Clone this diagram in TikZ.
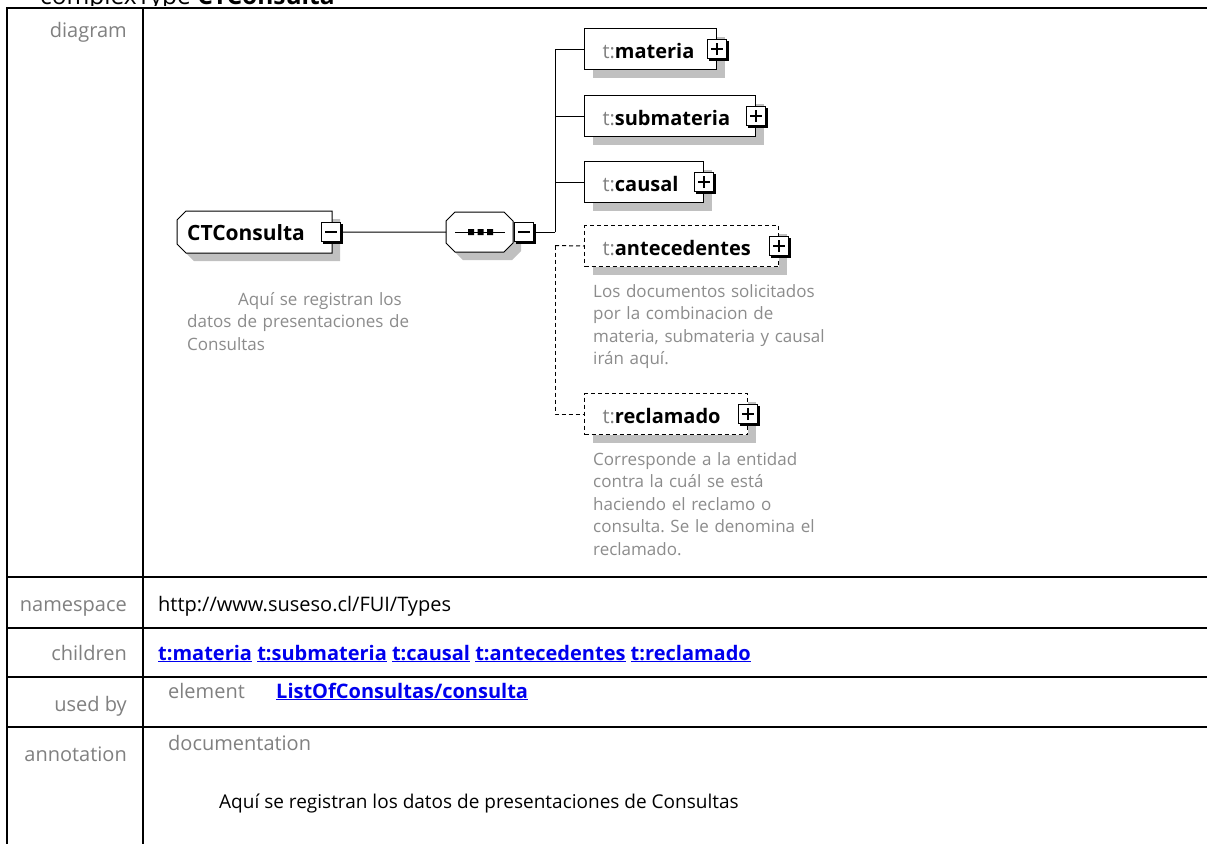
\documentclass[tikz,border=0pt]{standalone}
\usepackage{fontspec}
\setmainfont{Open Sans}
\usetikzlibrary{shadows}
\definecolor{lblgray}{RGB}{128,128,128}
\definecolor{desgray}{RGB}{140,140,140}
\definecolor{shgray}{RGB}{192,192,192}
\definecolor{linkblue}{RGB}{0,0,238}
\frenchspacing
\begin{document}
\begin{tikzpicture}[x=1pt,y=-1pt,
  tline/.style={line width=2pt, black},
  lbl/.style={anchor=base east, inner sep=0pt, text=lblgray, font=\fontsize{20}{24}\selectfont},
  val/.style={anchor=base west, inner sep=0pt, font=\fontsize{20}{24}\selectfont},
  lnk/.style={anchor=base west, inner sep=0pt, text=linkblue, font=\fontsize{20}{24}\selectfont\bfseries},
  shad/.style={drop shadow={shadow xshift=8pt, shadow yshift=-8pt, fill=shgray, opacity=1}},
  elbox/.style={shad, draw=black, line width=1pt, fill=white, inner sep=0pt, anchor=north west,
    minimum height=41pt, text height=19pt, text depth=0pt, align=left, font=\fontsize{20}{24}\selectfont},
  optbox/.style={elbox, dash pattern=on 4pt off 3pt},
  expbox/.style={draw=black, line width=1.3pt, fill=white, minimum size=19.5pt, inner sep=0pt,
    drop shadow={shadow xshift=2pt, shadow yshift=-2pt, fill=black, opacity=1}},
  minusbox/.style={expbox, path picture={\draw[line width=1.2pt] ([xshift=-6pt]path picture bounding box.center) -- ([xshift=6pt]path picture bounding box.center);}},
  plusbox/.style={expbox, path picture={\draw[line width=1.2pt] ([xshift=-6pt]path picture bounding box.center) -- ([xshift=6pt]path picture bounding box.center) ([yshift=-6pt]path picture bounding box.center) -- ([yshift=6pt]path picture bounding box.center);}},
  conn/.style={line width=1pt, black},
  optconn/.style={conn, dash pattern=on 4pt off 3pt},
  desc/.style={anchor=base west, inner sep=0pt, align=left, text width=260pt, text=desgray, font=\fontsize{17}{22.5}\selectfont},
]
\useasboundingbox (0,0) rectangle (1207,844);
\fill[white] (0,0) rectangle (1207,844);

% heading (cut off at the top)
\begin{scope}
\clip (0,0) rectangle (1207,5.5);
\node[anchor=base west, inner sep=0pt, font=\fontsize{24.5}{28}\selectfont] (title) at (40,4.5) {complexType \textbf{CTConsulta}};
\end{scope}

% table rules
\draw[tline] (7,8) -- (1207,8);
\draw[tline] (7,577) -- (1207,577);
\draw[tline] (7,628) -- (1207,628);
\draw[tline] (7,677) -- (1207,677);
\draw[tline] (7,727) -- (1207,727);
\draw[tline] (7,7) -- (7,844);
\draw[tline] (143,7) -- (143,844);

% row labels
\node[lbl] (ldiagram) at (127,37) {diagram};
\node[lbl] (lns) at (127,611) {namespace};
\node[lbl] (lchildren) at (127,660) {children};
\node[lbl] (lusedby) at (127,711) {used by};
\node[lbl] (lannot) at (127,761) {annotation};

% row values
\node[val] (vns) at (158,611) {http://www.suseso.cl/FUI/Types};
\node[lnk] (vchildren) at (158,660) {\underline{t:materia} \underline{t:submateria} \underline{t:causal} \underline{t:antecedentes} \underline{t:reclamado}};
\node[val, text=lblgray] (velement) at (168,698) {element};
\node[lnk] (vusedby) at (276,698) {\underline{ListOfConsultas/consulta}};
\node[val, text=lblgray] (vdoc) at (168,750) {documentation};
\node[val, font=\fontsize{19}{24}\selectfont] (vdoctext) at (219,808) {Aquí se registran los datos de presentaciones de Consultas};

% CTConsulta
\path[shad, draw=black, line width=1pt, fill=white] (186,211) -- (332,211) -- (332,253) -- (186,253) -- (177,244) -- (177,220) -- cycle;
\node[anchor=north west, inner sep=0pt, minimum width=155pt, minimum height=42pt, text width=155pt,
  text height=17pt, text depth=0pt, align=left, font=\fontsize{21}{24}\selectfont\bfseries] (ct) at (177,211) {\hspace*{10pt}CTConsulta};
\node[minusbox] (ctm) at (331,232) {};
\node[desc] (ctdesc) at (187,305) {\hspace*{51pt}Aquí se registran los\\datos de presentaciones de\\Consultas};

% sequence compositor
\path[shad, draw=black, line width=1pt, fill=white] (455,212) -- (504,212) -- (513,221) -- (513,243) -- (504,252) -- (455,252) -- (446,243) -- (446,221) -- cycle;
\node[anchor=north west, inner sep=0pt, minimum width=67pt, minimum height=40pt] (seq) at (446,212) {};
\draw[conn] (455,232) -- (505,232);
\fill[black] (468,229) rectangle (474,235) (477.5,229) rectangle (483.5,235) (487,229) rectangle (493,235);
\node[minusbox] (seqm) at (524,232) {};

\draw[conn] (ctm.east) -- (seq.west);
\coordinate (j) at (555,232);
\coordinate (jd) at (555,245.5);
\draw[conn] (seqm.east) -- (j);

% children
\node[elbox, text width=132pt] (materia) at (584,28) {\hspace*{18pt}\textcolor{lblgray}{t:}\textbf{materia}};
\node[plusbox] (pmateria) at (materia.east) {};
\node[elbox, text width=171pt] (submateria) at (584,95) {\hspace*{18pt}\textcolor{lblgray}{t:}\textbf{submateria}};
\node[plusbox] (psubmateria) at (submateria.east) {};
\node[elbox, text width=119pt] (causal) at (584,161) {\hspace*{18pt}\textcolor{lblgray}{t:}\textbf{causal}};
\node[plusbox] (pcausal) at (causal.east) {};
\node[optbox, text width=194pt] (antecedentes) at (584,225) {\hspace*{18pt}\textcolor{lblgray}{t:}\textbf{antecedentes}};
\node[plusbox] (pantecedentes) at (antecedentes.east) {};
\node[optbox, text width=163pt] (reclamado) at (584,393) {\hspace*{18pt}\textcolor{lblgray}{t:}\textbf{reclamado}};
\node[plusbox] (preclamado) at (reclamado.east) {};

\node[desc] (antdesc) at (593,297) {Los documentos solicitados\\por la combinacion de\\materia, submateria y causal\\irán aquí.};
\node[desc] (recdesc) at (593,465) {Corresponde a la entidad\\contra la cuál se está\\haciendo el reclamo o\\consulta. Se le denomina el\\reclamado.};

% connectors to children
\draw[conn] (j) |- (materia.west);
\draw[conn] (j) |- (submateria.west);
\draw[conn] (j) |- (causal.west);
\draw[optconn] (jd) -- (antecedentes.west);
\draw[optconn] (jd) |- (reclamado.west);
\end{tikzpicture}
\end{document}
